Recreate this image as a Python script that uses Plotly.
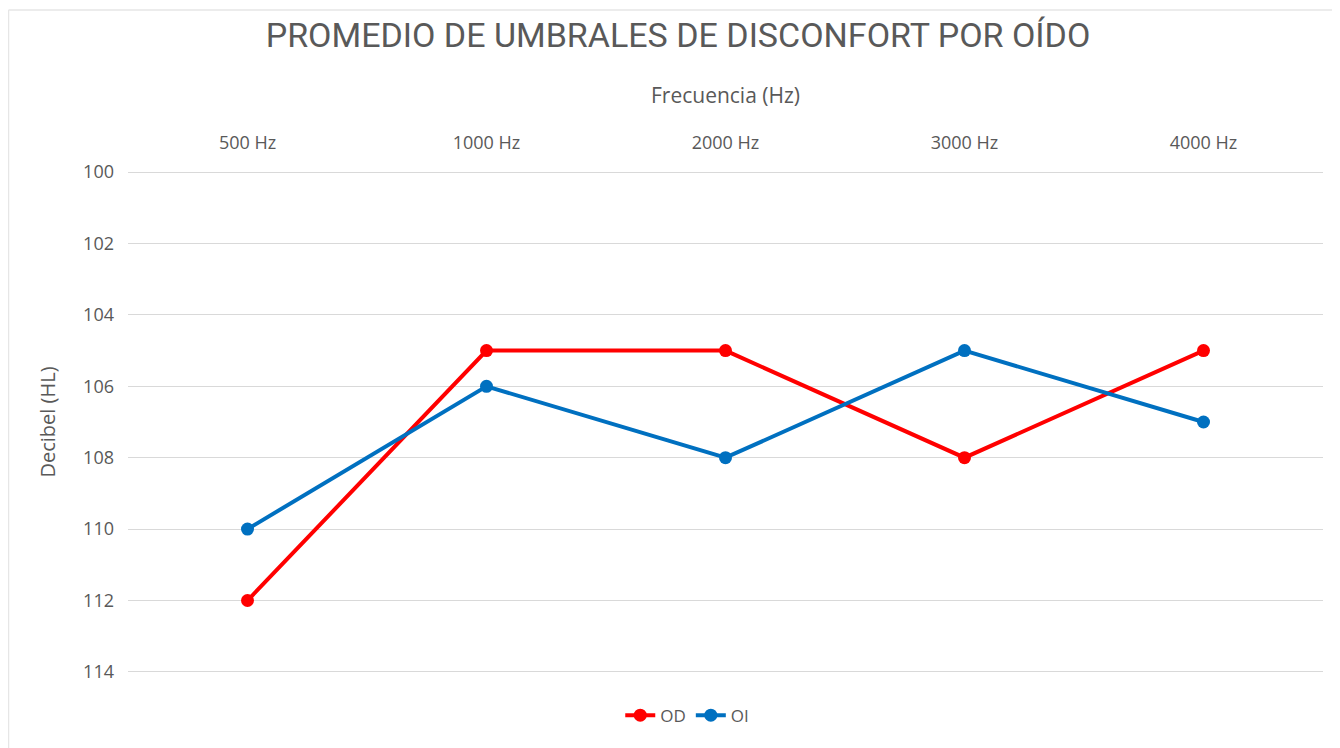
import plotly.graph_objects as go

frequencies = ["500 Hz", "1000 Hz", "2000 Hz", "3000 Hz", "4000 Hz"]
od_values = [112, 105, 105, 108, 105]
oi_values = [110, 106, 108, 105, 107]
y_ticks = [100, 102, 104, 106, 108, 110, 112, 114]

FONT = "Open Sans, Roboto, sans-serif"
GRAY = "#595959"

W, H = 1332, 740
L, R, T, B = 120, 17, 163, 75
PW, PH = W - L - R, H - T - B

fig = go.Figure()
fig.add_trace(go.Scatter(x=frequencies, y=od_values, name="OD", mode="lines+markers",
                         line=dict(color="#FF0000", width=4),
                         marker=dict(color="#FF0000", size=13)))
fig.add_trace(go.Scatter(x=frequencies, y=oi_values, name="OI", mode="lines+markers",
                         line=dict(color="#0070C0", width=4),
                         marker=dict(color="#0070C0", size=13)))

fig.update_layout(
    width=W, height=H,
    margin=dict(l=L, r=R, t=T, b=B),
    paper_bgcolor="white", plot_bgcolor="white",
    title=dict(text="PROMEDIO DE UMBRALES DE DISCONFORT POR OÍDO",
               x=0.503, xanchor="center", y=1 - 27 / H, yanchor="middle",
               font=dict(family="Roboto, sans-serif", size=34, color=GRAY)),
    font=dict(family=FONT, color=GRAY),
    showlegend=True,
    legend=dict(orientation="h", x=0.468, xanchor="center", y=-0.049, yanchor="top",
                font=dict(size=17, color=GRAY), itemwidth=30, traceorder="normal"),
    xaxis=dict(side="top", type="category", range=[-0.5, 4.5],
               showgrid=False, showline=False, zeroline=False, ticks="",
               tickfont=dict(size=18, color=GRAY), ticklabelstandoff=17,
               title=dict(text="Frecuencia (Hz)", font=dict(size=21, color=GRAY), standoff=21)),
    yaxis=dict(range=[114.03, 99.97], tickvals=y_ticks, showgrid=True, gridcolor="#D9D9D9",
               gridwidth=1, zeroline=False, showline=False, ticks="",
               tickfont=dict(size=18, color=GRAY), ticklabelstandoff=13,
               title=dict(text="Decibel (HL)", font=dict(size=20, color=GRAY), standoff=22)),
    shapes=[
        dict(type="line", xref="paper", yref="paper", x0=(0.5 - L) / PW, x1=(W - L) / PW,
             y0=(PH + T - 2) / PH, y1=(PH + T - 2) / PH, line=dict(color="#E6E6E6", width=1.5)),
        dict(type="line", xref="paper", yref="paper", x0=(0.5 - L) / PW, x1=(0.5 - L) / PW,
             y0=(PH + T - 2) / PH, y1=-B / PH, line=dict(color="#E6E6E6", width=1.5)),
    ],
)

fig.write_html("out.html")
